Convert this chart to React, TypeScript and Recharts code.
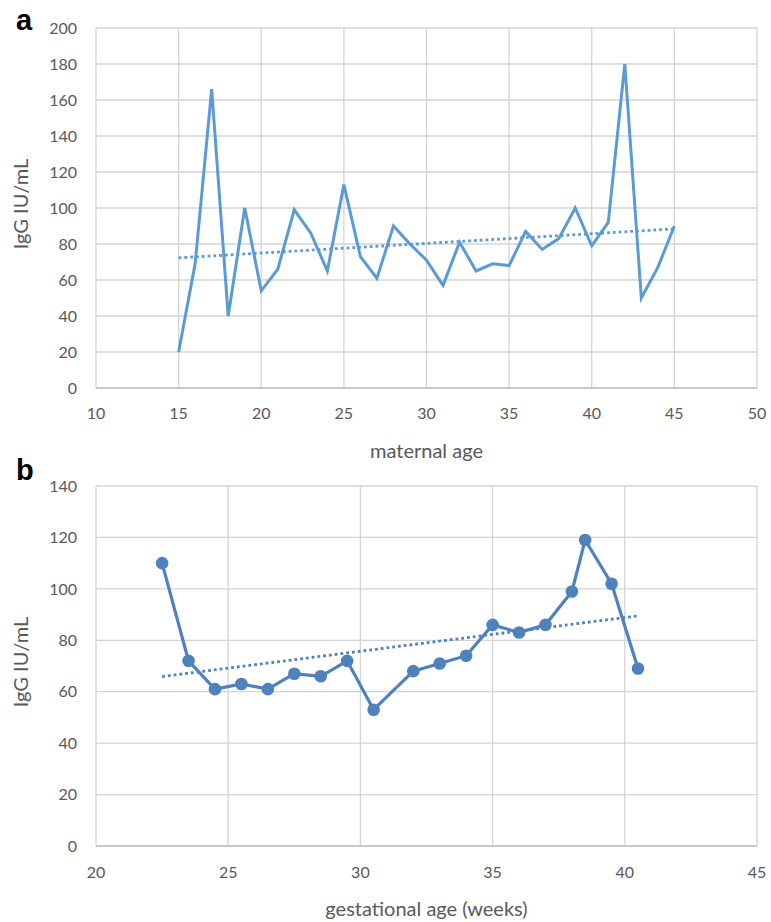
import { LineChart, Line, XAxis, YAxis, CartesianGrid, Label } from "recharts"

// panel a: IgG by maternal age
const maternalAge = [15, 16, 17, 18, 19, 20, 21, 22, 23, 24, 25, 26, 27, 28, 29, 30, 31, 32, 33, 34, 35, 36, 37, 38, 39, 40, 41, 42, 43, 44, 45]
const iggByAge = [20, 69, 166, 40, 100, 54, 66, 99, 86, 65, 113, 73, 61, 90, 80, 71, 57, 81, 65, 69, 68, 87, 77, 83, 100, 79, 92, 180, 50, 67, 90]
const trendAgeX = [15, 45]
const trendAgeY = [72.3, 88.4]
const ageTicks = [10, 15, 20, 25, 30, 35, 40, 45, 50]
const iggTicksA = [0, 20, 40, 60, 80, 100, 120, 140, 160, 180, 200]

// panel b: IgG by gestational age
const gestWeeks = [22.5, 23.5, 24.5, 25.5, 26.5, 27.5, 28.5, 29.5, 30.5, 32, 33, 34, 35, 36, 37, 38, 38.5, 39.5, 40.5]
const iggByWeek = [110, 72, 61, 63, 61, 67, 66, 72, 53, 68, 71, 74, 86, 83, 86, 99, 119, 102, 69]
const trendWeekX = [22.5, 40.5]
const trendWeekY = [65.9, 89.5]
const weekTicks = [20, 25, 30, 35, 40, 45]
const iggTicksB = [0, 20, 40, 60, 80, 100, 120, 140]

const zip = (xs: number[], ys: number[]) => xs.map((x, i) => ({ x, y: ys[i] }))

const seriesA = zip(maternalAge, iggByAge)
const trendA = zip(trendAgeX, trendAgeY)
const seriesB = zip(gestWeeks, iggByWeek)
const trendB = zip(trendWeekX, trendWeekY)

const FONT = "Lato, 'Open Sans', sans-serif"
const TEXT = "#595959"
const GRID = "#D4D4D4"
const AXIS = "#BFBFBF"
const tickStyle = { fill: TEXT, fontSize: 16, fontFamily: FONT }

const yTitle = (props: any) => {
  const vb = props.viewBox
  const cx = 20
  const cy = vb.y + vb.height / 2 - 4
  return (
    <text x={cx} y={cy} transform={`rotate(-90 ${cx} ${cy})`} textAnchor="middle" dominantBaseline="central"
      fill={TEXT} fontSize={20} fontFamily={FONT}>
      IgG IU/mL
    </text>
  )
}

const xTitle = (text: string) => (props: any) => {
  const vb = props.viewBox
  return (
    <text x={vb.x + vb.width / 2} y={vb.y + 62} textAnchor="middle" dominantBaseline="central"
      fill={TEXT} fontSize={20} fontFamily={FONT}>
      {text}
    </text>
  )
}

const panelLetter = { position: "absolute" as const, left: 16, fontFamily: "'Liberation Sans', Arial, sans-serif", fontWeight: 700, fontSize: 29, lineHeight: 1, color: "#000" }

export default function App() {
  return (
    <div style={{ position: "absolute", top: 0, left: 0, width: 771, height: 922, background: "#fff" }}>
      <LineChart width={771} height={480} margin={{ top: 28, right: 14, bottom: 20, left: 0 }} style={{ position: "absolute", top: 0, left: 0 }}>
        <CartesianGrid stroke={GRID} strokeWidth={1.3} />
        <XAxis type="number" dataKey="x" domain={[10, 50]} ticks={ageTicks} allowDataOverflow height={72}
          tickLine={false} tickSize={0} tickMargin={20} stroke={AXIS} strokeWidth={1.3} tick={tickStyle}>
          <Label content={xTitle("maternal age")} />
        </XAxis>
        <YAxis type="number" dataKey="y" domain={[0, 200]} ticks={iggTicksA} width={96}
          axisLine={false} tickLine={false} tickSize={0} tickMargin={19} tick={tickStyle}>
          <Label content={yTitle} />
        </YAxis>
        <Line data={seriesA} dataKey="y" stroke="#5B9BD5" strokeWidth={3} dot={false} activeDot={false}
          isAnimationActive={false} strokeLinejoin="miter" />
        <Line data={trendA} dataKey="y" stroke="#5B9BD5" strokeWidth={2.8} strokeDasharray="2.8 3" dot={false}
          activeDot={false} isAnimationActive={false} />
      </LineChart>

      <LineChart width={771} height={462} margin={{ top: 26, right: 14, bottom: 0, left: 0 }} style={{ position: "absolute", top: 460, left: 0 }}>
        <CartesianGrid stroke={GRID} strokeWidth={1.3} />
        <XAxis type="number" dataKey="x" domain={[20, 45]} ticks={weekTicks} allowDataOverflow height={76}
          tickLine={false} tickSize={0} tickMargin={21} stroke={AXIS} strokeWidth={1.3} tick={tickStyle}>
          <Label content={xTitle("gestational age (weeks)")} />
        </XAxis>
        <YAxis type="number" dataKey="y" domain={[0, 140]} ticks={iggTicksB} width={96}
          axisLine={false} tickLine={false} tickSize={0} tickMargin={19} tick={tickStyle}>
          <Label content={yTitle} />
        </YAxis>
        <Line data={seriesB} dataKey="y" stroke="#4F81BD" strokeWidth={3.2} dot={{ r: 6.3, fill: "#4F81BD", stroke: "none" }}
          activeDot={false} isAnimationActive={false} />
        <Line data={trendB} dataKey="y" stroke="#4F81BD" strokeWidth={2.8} strokeDasharray="2.8 3" dot={false}
          activeDot={false} isAnimationActive={false} />
      </LineChart>

      <div style={{ ...panelLetter, top: 6 }}>a</div>
      <div style={{ ...panelLetter, top: 456 }}>b</div>
    </div>
  )
}
